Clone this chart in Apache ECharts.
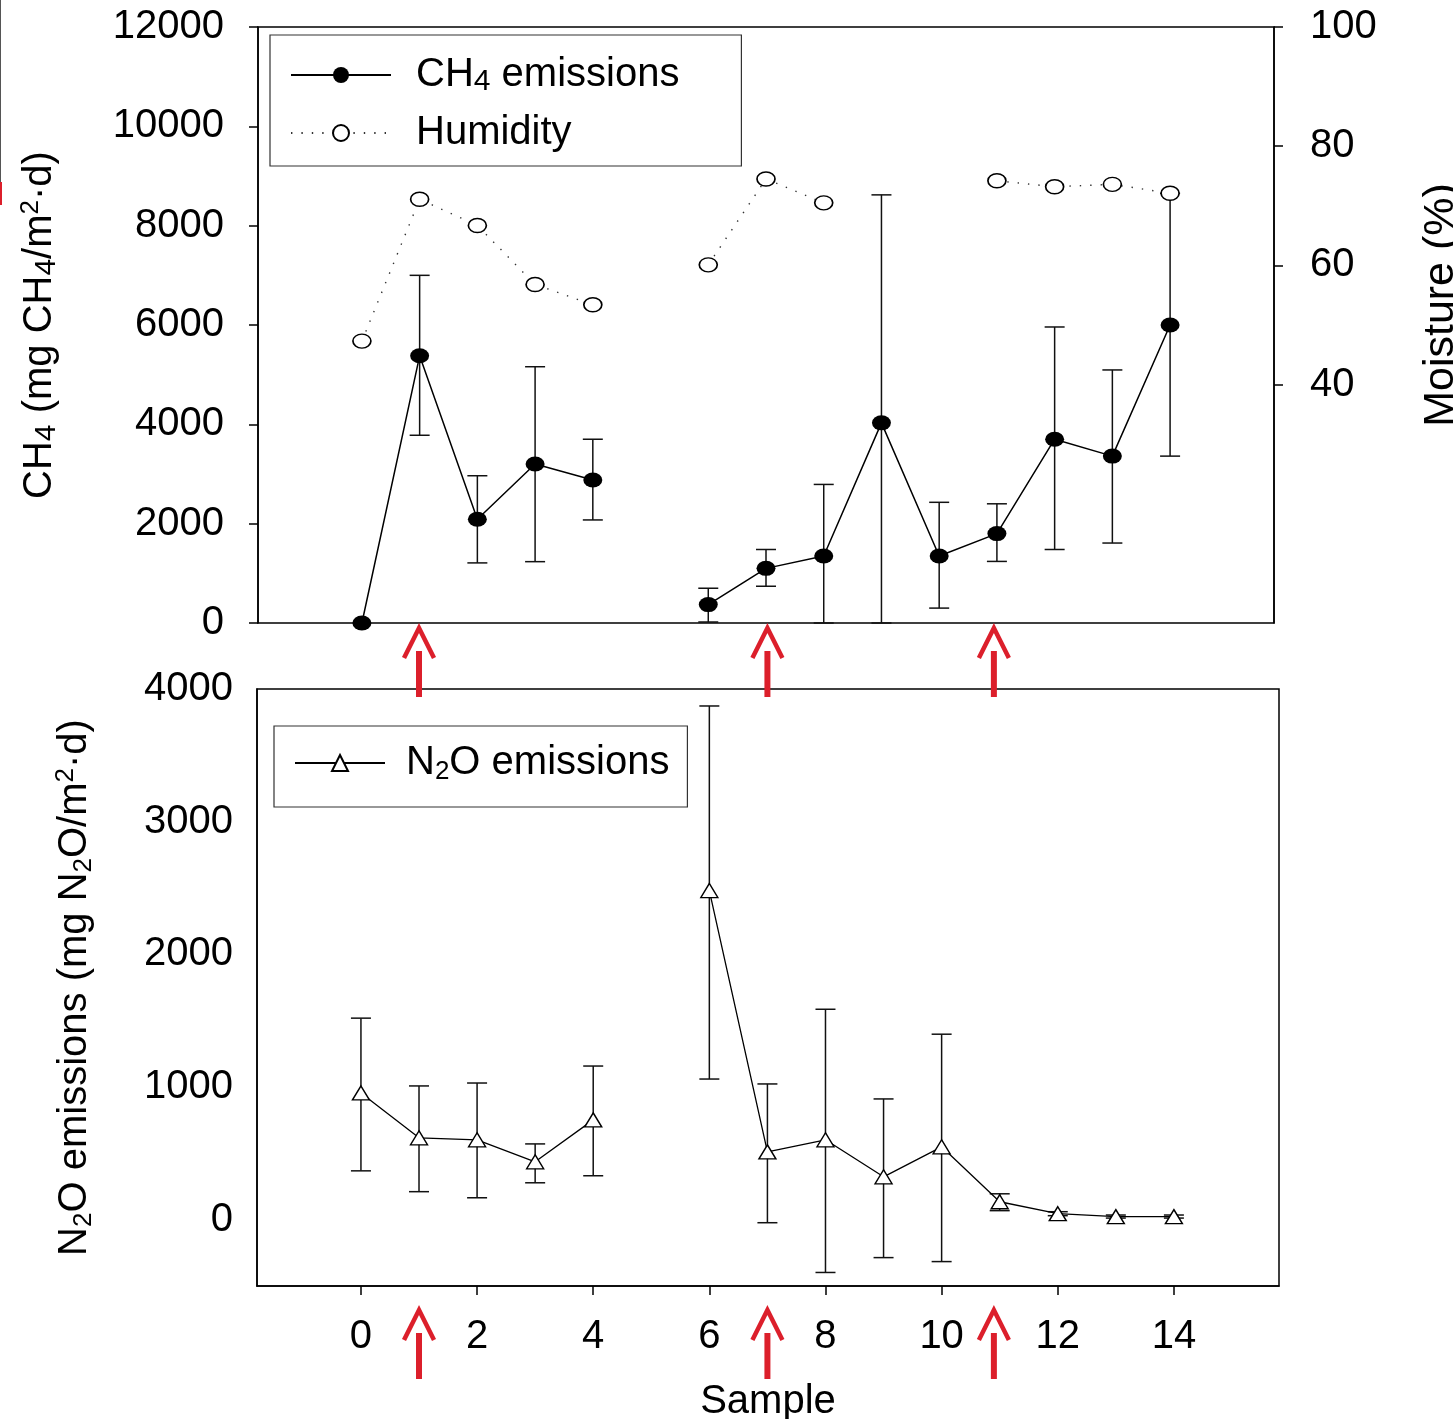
<!DOCTYPE html>
<html>
<head>
<meta charset="utf-8">
<script src="https://cdn.jsdelivr.net/npm/echarts@6/dist/echarts.min.js"></script>
<style>
html,body{margin:0;padding:0;background:#fff;}
#chart{width:1453px;height:1419px;}
</style>
</head>
<body>
<div id="chart"></div>
<script>
// ---------------- data ----------------
const ch4X    = [0, 1, 2, 3, 4, 6, 7, 8, 9, 10, 11, 12, 13, 14];
const ch4Mean = [0, 5380, 2090, 3200, 2880, 370, 1100, 1350, 4030, 1350, 1800, 3700, 3360, 6000];
const ch4Low  = [null, 3780, 1210, 1235, 2075, 20, 740, 0, 0, 300, 1240, 1480, 1610, 3360];
const ch4High = [null, 7000, 2965, 5160, 3700, 700, 1480, 2790, 8620, 2430, 2400, 5960, 5095, 8650];

const humX   = [0, 1, 2, 3, 4, 6, 7, 8, 11, 12, 13, 14];
const humVal = [47.3, 71.1, 66.7, 56.8, 53.4, 60.1, 74.5, 70.5, 74.2, 73.2, 73.6, 72.1];

const n2oX    = [0, 1, 2, 3, 4, 6, 7, 8, 9, 10, 11, 12, 13, 14];
const n2oMean = [955, 617, 602, 436, 752, 2481, 511, 602, 323, 549, 135, 45, 23, 23];
const n2oLow  = [368, 211, 165, 278, 331, 1060, -23, -398, -286, -316, 68, 30, 12, 12];
const n2oHigh = [1519, 1008, 1030, 571, 1158, 3872, 1023, 1586, 910, 1398, 195, 60, 35, 35];

const xTicks      = [0, 2, 4, 6, 8, 10, 12, 14];
const ch4Ticks    = [0, 2000, 4000, 6000, 8000, 10000, 12000];
const moistTicks  = [40, 60, 80, 100];
const n2oTicks    = [0, 1000, 2000, 3000, 4000];
const arrowSamples = [1, 7, 10.9];

// ---------------- helpers ----------------
const F = '"Liberation Sans", Arial, Helvetica, sans-serif';
function withGaps(xs, ys) {
  const out = [];
  for (let i = 0; i < xs.length; i++) {
    if (i > 0 && xs[i] - xs[i - 1] > 1) out.push([(xs[i] + xs[i - 1]) / 2, '-']);
    out.push([xs[i], ys[i]]);
  }
  return out;
}
function errData(xs, lo, hi) {
  const out = [];
  xs.forEach((x, i) => { if (lo[i] !== null && hi[i] !== null) out.push([x, lo[i], hi[i]]); });
  return out;
}
function errRender(params, api) {
  const x = api.value(0);
  const lo = api.coord([x, api.value(1)]);
  const hi = api.coord([x, api.value(2)]);
  const hw = 10;
  const style = { stroke: '#111', lineWidth: 1.5, fill: null };
  return {
    type: 'group',
    children: [
      { type: 'line', shape: { x1: lo[0], y1: lo[1], x2: hi[0], y2: hi[1] }, style: style },
      { type: 'line', shape: { x1: hi[0] - hw, y1: hi[1], x2: hi[0] + hw, y2: hi[1] }, style: style },
      { type: 'line', shape: { x1: lo[0] - hw, y1: lo[1], x2: lo[0] + hw, y2: lo[1] }, style: style }
    ]
  };
}
const FS = 40;
const rich = {
  t: { fontSize: FS, lineHeight: 44, fontFamily: F, color: '#000' },
  s: { fontSize: 30, lineHeight: 18, verticalAlign: 'bottom', fontFamily: F, color: '#000' },
  s2: { fontSize: 26, lineHeight: 16, verticalAlign: 'bottom', fontFamily: F, color: '#000' },
  p: { fontSize: 26, lineHeight: 12, verticalAlign: 'top', fontFamily: F, color: '#000' }
};
const legendNames = {
  'CH4 emissions': '{t|CH}{s|4}{t| emissions}',
  'Humidity': '{t|Humidity}',
  'N2O emissions': '{t|N}{s2|2}{t|O emissions}'
};
const tickLabel = { fontSize: FS, fontFamily: F, color: '#000', formatter: v => String(v) };

const chart = echarts.init(document.getElementById('chart'), null, { renderer: 'canvas' });

const option = {
  animation: false,
  backgroundColor: '#fff',
  textStyle: { fontFamily: F },
  grid: [
    { left: 258, top: 27, width: 1016, height: 596, show: true, borderColor: '#000', borderWidth: 1.5,
      backgroundColor: 'transparent', containLabel: false, outerBoundsMode: 'none' },
    { left: 257, top: 689, width: 1022, height: 597, show: true, borderColor: '#000', borderWidth: 1.5,
      backgroundColor: 'transparent', containLabel: false, outerBoundsMode: 'none' }
  ],
  xAxis: [
    { type: 'value', gridIndex: 0, min: -1.8, max: 15.8,
      axisLine: { show: false }, axisTick: { show: false }, axisLabel: { show: false }, splitLine: { show: false } },
    { type: 'value', gridIndex: 1, min: -1.79, max: 15.81,
      name: 'Sample', nameLocation: 'middle', nameGap: 96,
      nameTextStyle: { fontSize: FS, fontFamily: F, color: '#000' },
      axisLine: { show: true, onZero: false, lineStyle: { color: '#000', width: 1.5 } },
      axisTick: { show: true, length: 9, lineStyle: { color: '#000', width: 1.5 }, customValues: xTicks },
      axisLabel: Object.assign({ margin: 31, customValues: xTicks }, tickLabel),
      splitLine: { show: false } }
  ],
  yAxis: [
    { type: 'value', gridIndex: 0, position: 'left', min: 0, max: 12000,
      name: '{t|CH}{s|4}{t| (mg CH}{s|4}{t|/m}{p|2}{t|·d)}',
      nameLocation: 'middle', nameRotate: 90, nameGap: 196,
      nameTextStyle: { rich: rich },
      axisLine: { show: true, onZero: false, lineStyle: { color: '#000', width: 1.5 } },
      axisTick: { show: true, length: 9, lineStyle: { color: '#000', width: 1.5 }, customValues: ch4Ticks },
      axisLabel: Object.assign({ margin: 34, customValues: ch4Ticks }, tickLabel),
      splitLine: { show: false } },
    { type: 'value', gridIndex: 0, position: 'right', min: 0, max: 100,
      name: 'Moisture (%)', nameLocation: 'middle', nameRotate: 90, nameGap: 146,
      nameTextStyle: { fontSize: 43, fontFamily: F, color: '#000', padding: [0, 0, 0, 40] },
      axisLine: { show: true, onZero: false, lineStyle: { color: '#000', width: 1.5 } },
      axisTick: { show: true, length: 9, lineStyle: { color: '#000', width: 1.5 }, customValues: moistTicks },
      axisLabel: Object.assign({ margin: 36, customValues: moistTicks }, tickLabel),
      splitLine: { show: false } },
    { type: 'value', gridIndex: 1, position: 'left', min: -500, max: 4000,
      name: '{t|N}{s2|2}{t|O emissions (mg N}{s2|2}{t|O/m}{p|2}{t|·d)}',
      nameLocation: 'middle', nameRotate: 90, nameGap: 160,
      nameTextStyle: { rich: rich },
      axisLine: { show: true, onZero: false, lineStyle: { color: '#000', width: 1.5 } },
      axisTick: { show: false },
      axisLabel: Object.assign({ margin: 24, customValues: n2oTicks }, tickLabel),
      splitLine: { show: false } }
  ],
  legend: [
    { orient: 'vertical', left: 270, top: 35, data: ['CH4 emissions', 'Humidity'],
      itemWidth: 100, itemHeight: 20, itemGap: 16,
      padding: [20, 62, 13, 20],
      borderColor: '#333', borderWidth: 1.2, borderRadius: 0,
      formatter: n => legendNames[n],
      textStyle: { rich: rich, padding: [0, 0, 0, 20] },
      selectedMode: false },
    { orient: 'vertical', left: 274, top: 726, data: ['N2O emissions'],
      itemWidth: 90, itemHeight: 20,
      padding: [17, 18, 22, 20],
      borderColor: '#333', borderWidth: 1.2, borderRadius: 0,
      formatter: n => legendNames[n],
      textStyle: { rich: rich, padding: [0, 0, 0, 16] },
      selectedMode: false }
  ],
  series: [
    { type: 'custom', name: 'ch4err', xAxisIndex: 0, yAxisIndex: 0, z: 1, silent: true,
      data: errData(ch4X, ch4Low, ch4High), encode: { x: 0, y: [1, 2] }, renderItem: errRender },
    { type: 'custom', name: 'n2oerr', xAxisIndex: 1, yAxisIndex: 2, z: 1, silent: true,
      data: errData(n2oX, n2oLow, n2oHigh), encode: { x: 0, y: [1, 2] }, renderItem: errRender },
    { type: 'line', name: 'CH4 emissions', xAxisIndex: 0, yAxisIndex: 0, z: 3,
      data: withGaps(ch4X, ch4Mean), connectNulls: false,
      symbol: 'circle', symbolSize: [19, 15], showAllSymbol: true,
      itemStyle: { color: '#000', borderColor: '#000', borderWidth: 0 },
      lineStyle: { color: '#000', width: 1.5 } },
    { type: 'line', name: 'Humidity', xAxisIndex: 0, yAxisIndex: 1, z: 4,
      data: withGaps(humX, humVal), connectNulls: false,
      symbol: 'circle', symbolSize: [18, 14], showAllSymbol: true,
      itemStyle: { color: '#fff', borderColor: '#000', borderWidth: 1.5 },
      lineStyle: { color: '#333', width: 1.4, type: [1.4, 9] } },
    { type: 'line', name: 'N2O emissions', xAxisIndex: 1, yAxisIndex: 2, z: 3,
      data: withGaps(n2oX, n2oMean), connectNulls: false,
      symbol: 'triangle', symbolSize: [17, 14], showAllSymbol: true,
      itemStyle: { color: '#fff', borderColor: '#000', borderWidth: 1.4 },
      lineStyle: { color: '#000', width: 1.3 } }
  ]
};
chart.setOption(option);

// red arrows (annotation), positioned through the x axis scale
const RED = '#dc1f2b';
const g0 = chart.getModel().getComponent('grid', 0).coordinateSystem.getRect();
const g1 = chart.getModel().getComponent('grid', 1).coordinateSystem.getRect();
const arrows = [];
function arrow(x, yA) {
  arrows.push({ type: 'polyline', shape: { points: [[x - 15, yA + 30], [x, yA], [x + 15, yA + 30]] },
    style: { stroke: RED, lineWidth: 4.5, fill: null, lineJoin: 'miter' }, z: 10 });
  arrows.push({ type: 'line', shape: { x1: x, y1: yA + 23, x2: x, y2: yA + 69 },
    style: { stroke: RED, lineWidth: 6 }, z: 10 });
}
arrowSamples.forEach(s => {
  const px = chart.convertToPixel({ xAxisIndex: 1 }, s);
  arrow(px, g0.y + g0.height + 5);
  arrow(px, g1.y + g1.height + 24);
});
// left edge artefact of the original figure
arrows.push({ type: 'line', shape: { x1: 0.5, y1: 0, x2: 0.5, y2: 205 }, style: { stroke: '#555', lineWidth: 1 } });
arrows.push({ type: 'rect', shape: { x: 0, y: 182, width: 2, height: 23 }, style: { fill: RED } });
chart.setOption({ graphic: arrows });
</script>
</body>
</html>
